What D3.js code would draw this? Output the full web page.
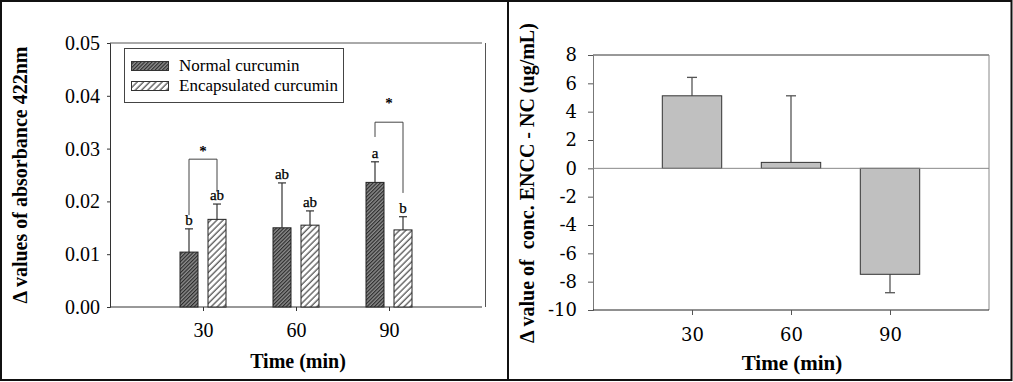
<!DOCTYPE html>
<html><head><meta charset="utf-8">
<script src="https://cdn.jsdelivr.net/npm/d3@7"></script>
<style>
body{margin:0;background:#fff;}
svg text{font-family:"Liberation Serif","Times New Roman",serif;}
</style></head>
<body><svg id="c" width="1013" height="382"></svg>
<script>
// ---------- data ----------
const times = [30, 60, 90];
const seriesNames = ["Normal curcumin", "Encapsulated curcumin"];
const normalMean = [0.0104, 0.0150, 0.0236];
const normalErr  = [0.0044, 0.0085, 0.0039];
const encapMean  = [0.0166, 0.0155, 0.0146];
const encapErr   = [0.0029, 0.0027, 0.0025];
const normalLetters = ["b", "ab", "a"];
const encapLetters  = ["ab", "ab", "b"];
const leftYTicks = [0, 0.01, 0.02, 0.03, 0.04, 0.05];
const leftYTickLabels = ["0.00", "0.01", "0.02", "0.03", "0.04", "0.05"];
// significance brackets: time, top value, left-leg bottom, right-leg bottom, star value
const sigTime = [30, 90];
const sigTop = [0.0280, 0.0350];
const sigLeftBottom = [0.0174, 0.0322];
const sigRightBottom = [0.0218, 0.0216];
const sigStar = [0.0286, 0.0376];

const diffMean = [5.12, 0.42, -7.48];
const diffErr  = [1.30, 4.70, -1.30];
const rightYTicks = [-10, -8, -6, -4, -2, 0, 2, 4, 6, 8];
const rightYTickLabels = ["-10", "-8", "-6", "-4", "-2", "0", "2", "4", "6", "8"];

const svg = d3.select("#c");

// ---------- patterns ----------
const defs = svg.append("defs");
const p1 = defs.append("pattern").attr("id", "hatchN").attr("patternUnits", "userSpaceOnUse")
  .attr("width", 2.6).attr("height", 6).attr("patternTransform", "rotate(45)");
p1.append("rect").attr("width", 2.6).attr("height", 6).attr("fill", "#8c8c8c");
p1.append("line").attr("x1", 0.6).attr("x2", 0.6).attr("y1", 0).attr("y2", 6).attr("stroke", "#262626").attr("stroke-width", 1.1);
const p2 = defs.append("pattern").attr("id", "hatchE").attr("patternUnits", "userSpaceOnUse")
  .attr("width", 4.4).attr("height", 6).attr("patternTransform", "rotate(45)");
p2.append("rect").attr("width", 4.4).attr("height", 6).attr("fill", "#fff");
p2.append("line").attr("x1", 1).attr("x2", 1).attr("y1", 0).attr("y2", 6).attr("stroke", "#222").attr("stroke-width", 1);
const fills = ["url(#hatchN)", "url(#hatchE)"];

// ---------- panel frames ----------
svg.append("rect").attr("x", 1).attr("y", 1).attr("width", 507).attr("height", 379)
  .attr("fill", "none").attr("stroke", "#111").attr("stroke-width", 2);
svg.append("rect").attr("x", 508).attr("y", 1).attr("width", 503.5).attr("height", 379)
  .attr("fill", "none").attr("stroke", "#111").attr("stroke-width", 2);

// ================= LEFT PANEL =================
const L = {l: 110, r: 482, t: 43, b: 307};
const xL = d3.scaleLinear().domain([0, 120]).range([L.l, L.r]);
const yL = d3.scaleLinear().domain([0, 0.05]).range([L.b, L.t]);
const sub = d3.scaleBand().domain(seriesNames).range([-23, 23]).paddingInner(10 / 28);
const gL = svg.append("g");

// frame
gL.append("line").attr("x1", L.l).attr("x2", L.r).attr("y1", L.t).attr("y2", L.t).attr("stroke", "#555");
gL.append("line").attr("x1", L.r + 3.5).attr("x2", L.r + 3.5).attr("y1", L.t).attr("y2", L.b).attr("stroke", "#555");

// y axis
const yAxL = gL.append("g").attr("transform", `translate(${L.l},0)`)
  .call(d3.axisLeft(yL).tickValues(leftYTicks).tickFormat((d, i) => leftYTickLabels[i]).tickSize(3).tickPadding(7))
  .attr("font-family", "Liberation Serif").attr("font-size", 20);
yAxL.select(".domain").attr("stroke", "#333");
yAxL.selectAll(".tick line").attr("stroke", "#333");
yAxL.selectAll("text").attr("fill", "#000");

// x axis
const xAxL = gL.append("g").attr("transform", `translate(0,${L.b})`)
  .call(d3.axisBottom(xL).tickValues(times).tickSize(4).tickPadding(12))
  .attr("font-family", "Liberation Serif").attr("font-size", 20);
xAxL.select(".domain").attr("d", `M${L.l},0H${L.r}`).attr("stroke", "#333");
xAxL.selectAll(".tick line").attr("stroke", "#333");
xAxL.selectAll("text").attr("fill", "#000");

// bars
const groups = [
  {name: seriesNames[0], mean: normalMean, err: normalErr, letters: normalLetters, fill: fills[0]},
  {name: seriesNames[1], mean: encapMean, err: encapErr, letters: encapLetters, fill: fills[1]}
];
groups.forEach(g => {
  times.forEach((t, i) => {
    const x0 = xL(t) + sub(g.name);
    const w = sub.bandwidth();
    const cx = x0 + w / 2;
    const top = g.mean[i] + g.err[i];
    gL.append("line").attr("x1", cx).attr("x2", cx).attr("y1", yL(g.mean[i])).attr("y2", yL(top))
      .attr("stroke", "#333").attr("stroke-width", 1.2);
    gL.append("line").attr("x1", cx - 4).attr("x2", cx + 4).attr("y1", yL(top)).attr("y2", yL(top))
      .attr("stroke", "#333").attr("stroke-width", 1.2);
    gL.append("rect").attr("x", x0).attr("y", yL(g.mean[i])).attr("width", w)
      .attr("height", yL(0) - yL(g.mean[i])).attr("fill", g.fill).attr("stroke", "#222").attr("stroke-width", 1);
    gL.append("text").attr("x", cx).attr("y", yL(top) - 4).attr("text-anchor", "middle")
      .attr("font-size", 15).attr("fill", "#000").attr("stroke", "#000").attr("stroke-width", 0.25).text(g.letters[i]);
  });
});

// significance brackets
sigTime.forEach((t, i) => {
  const xa = xL(t) + sub(seriesNames[0]) + sub.bandwidth() / 2;
  const xb = xL(t) + sub(seriesNames[1]) + sub.bandwidth() / 2;
  gL.append("path")
    .attr("d", `M${xa},${yL(sigLeftBottom[i])}V${yL(sigTop[i])}H${xb}V${yL(sigRightBottom[i])}`)
    .attr("fill", "none").attr("stroke", "#444").attr("stroke-width", 1);
  gL.append("text").attr("x", xL(t)).attr("y", yL(sigStar[i])).attr("text-anchor", "middle")
    .attr("font-size", 15).attr("font-weight", "bold").text("*");
});

// legend
const lg = gL.append("g");
lg.append("rect").attr("x", 124.5).attr("y", 48.5).attr("width", 219).attr("height", 54)
  .attr("fill", "#fff").attr("stroke", "#444").attr("stroke-width", 1);
seriesNames.forEach((n, i) => {
  lg.append("rect").attr("x", 131.5).attr("y", 61.5 + i * 20).attr("width", 37).attr("height", 9)
    .attr("fill", fills[i]).attr("stroke", "#333").attr("stroke-width", 1);
  lg.append("text").attr("x", 179).attr("y", 71 + i * 20).attr("font-size", 17).text(n);
});

// titles
gL.append("text").attr("x", (L.l + L.r) / 2 + 2).attr("y", 368).attr("text-anchor", "middle")
  .attr("font-size", 20).attr("font-weight", "bold").text("Time (min)");
gL.append("text").attr("transform", `translate(27,${(L.t + L.b) / 2}) rotate(-90)`)
  .attr("text-anchor", "middle").attr("font-size", 20).attr("font-weight", "bold")
  .text("\u0394 values of absorbance 422nm");

// ================= RIGHT PANEL =================
const R = {l: 593, r: 989, t: 55, b: 310};
const xR = d3.scaleLinear().domain([0, 120]).range([R.l, R.r]);
const yR = d3.scaleLinear().domain([-10, 8]).range([R.b, R.t]);
const gR = svg.append("g");

gR.append("line").attr("x1", R.l).attr("x2", R.r).attr("y1", R.t).attr("y2", R.t).attr("stroke", "#333");
gR.append("line").attr("x1", R.r).attr("x2", R.r).attr("y1", R.t).attr("y2", R.b).attr("stroke", "#888");

const yAxR = gR.append("g").attr("transform", `translate(${R.l},0)`)
  .call(d3.axisLeft(yR).tickValues(rightYTicks).tickFormat((d, i) => rightYTickLabels[i]).tickSize(5).tickPadding(11))
  .attr("font-family", "DejaVu Serif").attr("font-size", 18);
yAxR.select(".domain").attr("stroke", "#777");
yAxR.selectAll(".tick line").attr("stroke", "#555");
yAxR.selectAll("text").attr("fill", "#000").style("font-family", "DejaVu Serif");

const xAxR = gR.append("g").attr("transform", `translate(0,${R.b})`)
  .call(d3.axisBottom(xR).tickValues(times).tickSize(5).tickPadding(13))
  .attr("font-family", "DejaVu Serif").attr("font-size", 18);
xAxR.select(".domain").attr("d", `M${R.l},0H${R.r}`).attr("stroke", "#222");
xAxR.selectAll(".tick line").attr("stroke", "#555");
xAxR.selectAll("text").attr("fill", "#000").style("font-family", "DejaVu Serif");

// error bars then bars
times.forEach((t, i) => {
  const cx = xR(t);
  const v = diffMean[i], e = diffMean[i] + diffErr[i];
  gR.append("line").attr("x1", cx).attr("x2", cx).attr("y1", yR(v)).attr("y2", yR(e))
    .attr("stroke", "#555").attr("stroke-width", 1.3);
  gR.append("line").attr("x1", cx - 5).attr("x2", cx + 5).attr("y1", yR(e)).attr("y2", yR(e))
    .attr("stroke", "#555").attr("stroke-width", 1.3);
});
const bw = xR(18) - xR(0);
gR.selectAll("rect.bar").data(diffMean).enter().append("rect").attr("class", "bar")
  .attr("x", (d, i) => xR(times[i]) - bw / 2)
  .attr("y", d => yR(Math.max(0, d)))
  .attr("width", bw)
  .attr("height", d => Math.abs(yR(d) - yR(0)))
  .attr("fill", "#c0c0c0").attr("stroke", "#333").attr("stroke-width", 1);
// zero line
gR.append("line").attr("x1", R.l).attr("x2", R.r).attr("y1", yR(0)).attr("y2", yR(0))
  .attr("stroke", "#888").attr("stroke-width", 1);

gR.append("text").attr("x", (R.l + R.r) / 2 + 1).attr("y", 370).attr("text-anchor", "middle")
  .attr("font-size", 21).attr("font-weight", "bold").text("Time (min)");
gR.append("text").attr("transform", `translate(534,183) rotate(-90)`)
  .attr("text-anchor", "middle").attr("font-size", 20).attr("font-weight", "bold")
  .style("white-space", "pre")
  .text("\u0394 value of  conc. ENCC - NC (ug/mL)");
</script></body></html>
